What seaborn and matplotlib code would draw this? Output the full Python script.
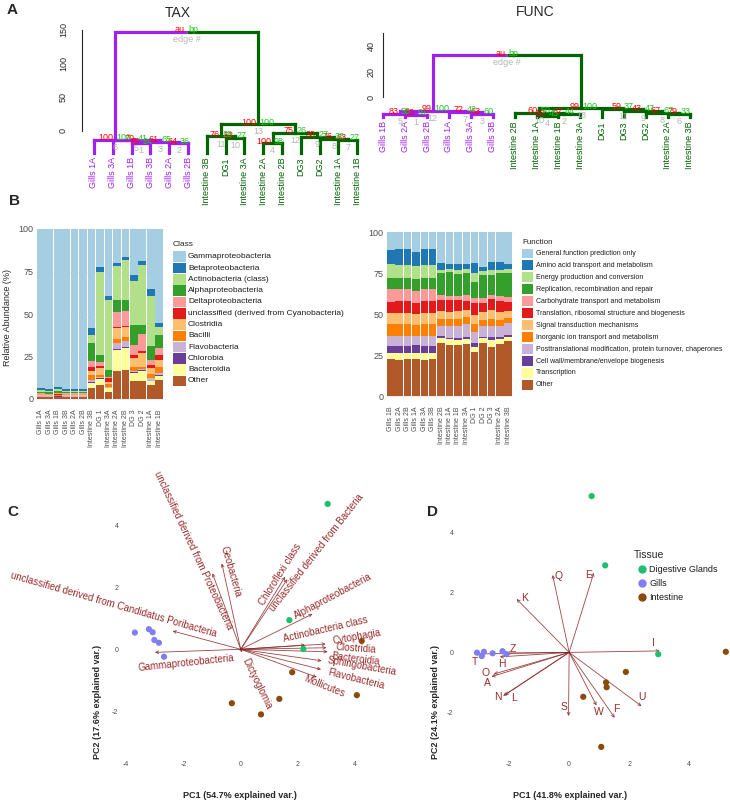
import numpy as np
import pandas as pd
import seaborn as sns
import matplotlib.pyplot as plt
from matplotlib.patches import Rectangle
from matplotlib.lines import Line2D

sns.set_style('white')
plt.rcParams['font.family'] = ['Liberation Sans', 'DejaVu Sans']
plt.rcParams['axes.unicode_minus'] = False

W, H = 730, 802

# ---------------- A: dendrogramas (merge no formato do R: negativo = folha)
tax_leaves = ['Gills 1A', 'Gills 3A', 'Gills 1B', 'Gills 3B', 'Gills 2A', 'Gills 2B',
              'Intestine 3B', 'DG1', 'Intestine 3A', 'Intestine 2A', 'Intestine 2B',
              'DG3', 'DG2', 'Intestine 1A', 'Intestine 1B']
tax_merge = [(-3, -4), (-5, -6), (1, 2), (-10, -11), (-2, 3), (-1, 5), (-14, -15),
             (-13, 7), (-12, 8), (-8, -9), (-7, 10), (4, 9), (11, 12), (6, 13)]
tax_height = [-18, -18, -16, -18, -14, -13, -13, -12, -9, -10, -8, -3, 10, 147]
tax_au = [75, 64, 61, 100, 70, 100, 63, 76, 30, 53, 76, 75, 100]
tax_bp = [24, 36, 65, 98, 41, 100, 27, 36, 27, 27, 28, 26, 100]

func_leaves = ['Gills 1B', 'Gills 2A', 'Gills 2B', 'Gills 1A', 'Gills 3A', 'Gills 3B',
               'Intestine 2B', 'Intestine 1A', 'Intestine 1B', 'Intestine 3A',
               'DG1', 'DG3', 'DG2', 'Intestine 2A', 'Intestine 3B']
func_merge = [(-2, -3), (4, -10), (-5, -6), (-8, -9), (-1, 1), (-14, -15), (-4, 3),
              (-13, 6), (-12, 8), (-7, 2), (-11, 9), (5, 7), (10, 11), (12, 13)]
func_height = [-13.8, -13, -13, -14.5, -12.7, -13, -11.5, -12, -10.7, -12, -9.1, -10.7, -8.6, 33]
func_au = [50, 67, 63, 53, 83, 79, 72, 67, 43, 60, 59, 99, 99]
func_bp = [91, 44, 60, 45, 55, 33, 42, 67, 47, 50, 37, 100, 100]

# ---------------- B: abundancia relativa (%)
tax_samples = ['Gills 1A', 'Gills 3A', 'Gills 1B', 'Gills 3B', 'Gills 2A', 'Gills 2B',
               'Intestine 3B', 'DG 1', 'Intestine 3A', 'Intestine 2A', 'Intestine 2B',
               'DG 3', 'DG 2', 'Intestine 1A', 'Intestine 1B']
other_c = [1.0, 1.0, 1.2, 1.0, 1.0, 1.0, 6.7, 8.3, 4.3, 16.5, 17.1, 10.8, 10.6, 8.3, 11.2]
bacteroidia = [0.2, 0.2, 0.2, 0.2, 0.2, 0.2, 2.5, 3.5, 2.0, 12.4, 12.8, 4.3, 6.1, 2.1, 2.4]
chlorobia = [0.1, 0.1, 0.1, 0.1, 0.1, 0.1, 0.6, 0.4, 0.3, 0.4, 0.4, 1.0, 0.4, 0.4, 0.4]
flavobacteria = [0.3, 0.3, 0.3, 0.3, 0.3, 0.3, 1.4, 1.0, 0.7, 3.5, 4.1, 0.6, 0.6, 1.4, 1.5]
bacilli = [0.3, 0.3, 0.3, 0.3, 0.3, 0.3, 2.9, 0.9, 1.5, 2.4, 2.3, 2.0, 1.4, 2.5, 3.6]
clostridia = [0.4, 0.4, 0.4, 0.4, 0.4, 0.4, 2.4, 3.9, 1.4, 6.5, 5.5, 5.3, 8.2, 3.3, 3.9]
cyano = [0.2, 0.2, 0.2, 0.2, 0.2, 0.2, 2.5, 1.4, 2.0, 0.9, 1.0, 1.9, 1.2, 2.0, 2.9]
delta = [0.8, 0.7, 1.0, 0.8, 0.8, 0.8, 3.6, 2.6, 1.0, 8.5, 8.3, 5.9, 9.6, 3.0, 4.0]
alpha = [1.0, 0.8, 1.0, 0.9, 0.9, 0.9, 10.2, 4.0, 3.9, 7.2, 6.8, 11.8, 5.5, 8.4, 7.8]
actino = [0.8, 0.6, 0.9, 0.7, 0.7, 0.7, 4.9, 48.5, 41.2, 19.7, 23.2, 25.6, 35.4, 28.9, 4.9]
beta = [1.2, 1.0, 1.2, 1.1, 1.1, 1.1, 4.1, 3.1, 2.4, 2.0, 1.8, 3.9, 1.9, 4.6, 2.0]
gamma = [93.7, 94.4, 93.2, 94.0, 94.0, 94.0, 58.2, 22.4, 39.3, 20.0, 16.7, 26.9, 19.1, 35.1, 55.4]
class_names = ['Gammaproteobacteria', 'Betaproteobacteria', 'Actinobacteria (class)',
               'Alphaproteobacteria', 'Deltaproteobacteria',
               'unclassified (derived from Cyanobacteria)', 'Clostridia', 'Bacilli',
               'Flavobacteria', 'Chlorobia', 'Bacteroidia', 'Other']
class_layers = [other_c, bacteroidia, chlorobia, flavobacteria, bacilli, clostridia,
                cyano, delta, alpha, actino, beta, gamma]  # de baixo para cima

func_samples = ['Gills 1B', 'Gills 2A', 'Gills 2B', 'Gills 1A', 'Gills 3A', 'Gills 3B',
                'Intestine 2B', 'Intestine 1A', 'Intestine 1B', 'Intestine 3A',
                'DG 1', 'DG 2', 'DG 3', 'Intestine 2A', 'Intestine 3B']
other_f = [22.6, 22.2, 22.4, 22.8, 22.2, 22.4, 32.2, 31.2, 31.2, 32.0, 27.0, 32.2, 30.1, 31.8, 33.8]
transcription = [3.4, 3.8, 3.6, 3.6, 3.8, 3.6, 3.0, 3.4, 3.2, 2.6, 2.7, 3.0, 4.1, 2.8, 2.5]
cell_wall = [4.5, 4.6, 4.6, 4.6, 4.6, 4.6, 1.5, 1.0, 1.2, 1.6, 2.9, 0.8, 1.6, 1.7, 1.0]
posttrans = [6.2, 6.0, 6.0, 5.6, 6.0, 6.0, 6.1, 7.2, 7.3, 8.0, 6.7, 6.8, 7.0, 6.5, 7.1]
inorganic = [7.1, 7.2, 7.2, 6.8, 7.2, 7.2, 4.2, 4.2, 4.3, 4.0, 4.5, 3.6, 4.0, 3.6, 3.1]
signal = [7.1, 7.0, 7.0, 6.8, 7.0, 7.0, 5.1, 4.5, 4.5, 4.3, 5.7, 4.7, 5.7, 5.1, 4.6]
translation = [6.7, 7.0, 7.0, 6.6, 7.0, 7.0, 6.6, 7.2, 7.0, 5.7, 7.1, 5.5, 6.6, 6.8, 5.5]
carbohydrate = [7.6, 7.8, 7.8, 7.2, 7.8, 7.6, 3.0, 2.4, 2.5, 3.5, 3.1, 3.1, 2.6, 2.8, 2.7]
replication = [6.7, 6.4, 6.4, 7.2, 6.4, 6.6, 13.2, 14.9, 13.5, 13.5, 10.2, 14.2, 12.2, 13.8, 14.6]
energy = [8.5, 8.2, 8.2, 8.2, 8.2, 8.2, 2.1, 1.6, 2.5, 2.3, 5.1, 2.7, 3.1, 2.1, 2.5]
amino = [8.8, 9.4, 9.4, 8.6, 9.4, 9.4, 4.1, 3.0, 3.3, 3.0, 6.5, 2.4, 5.0, 5.0, 3.2]
general = [10.8, 10.4, 10.4, 12.0, 10.4, 10.4, 18.9, 19.4, 19.5, 19.5, 18.5, 21.0, 18.0, 18.0, 19.4]
func_names = ['General function prediction only', 'Amino acid transport and metabolism',
              'Energy production and conversion', 'Replication, recombination and repair',
              'Carbohydrate transport and metabolism',
              'Translation, ribosomal structure and biogenesis',
              'Signal transduction mechanisms', 'Inorganic ion transport and metabolism',
              'Posttranslational modification, protein turnover, chaperones',
              'Cell wall/membrane/envelope biogenesis', 'Transcription', 'Other']
func_layers = [other_f, transcription, cell_wall, posttrans, inorganic, signal,
               translation, carbohydrate, replication, energy, amino, general]

# ---------------- C / D: PCA
tissue = ['Gills'] * 6 + ['Digestive Glands'] * 3 + ['Intestine'] * 6
pc_tax_x = [-3.70, -3.21, -3.08, -3.02, -2.86, -2.68, 3.04, 1.70, 2.19,
            4.23, 1.80, 4.06, 1.35, -0.31, 0.71]
pc_tax_y = [0.54, 0.65, 0.55, 0.30, 0.21, -0.24, 4.69, 0.94, 0.01,
            0.27, -0.74, -1.48, -1.60, -1.74, -2.10]
tax_vars = ['unclassified derived from Proteobacteria', 'Geobacteria', 'Chloroflexi class',
            'unclassified derived from Bacteria', 'Alphaproteobacteria',
            'Actinobacteria class', 'Cytophagia', 'Clostridia', 'Bacteroidia',
            'Sphingobacteria', 'Flavobacteria', 'Mollicutes', 'Dictyoglomia',
            'Gammaproteobacteria', 'unclassified derived from Candidatus Poribacteria']
tax_load_x = [-0.99, -0.66, 1.55, 1.63, 2.51, 2.25, 2.97, 3.00, 3.04, 2.83, 2.81, 2.66, 0.05, -3.00, -2.38]
tax_load_y = [2.45, 2.77, 2.34, 2.26, 1.14, 0.14, 0.17, 0.05, -0.08, -0.37, -0.65, -0.90, -0.10, -0.10, 0.59]

pc_func_x = [-3.07, -2.91, -2.84, -2.55, -2.22, -2.09, 0.75, 1.20, 2.97,
             5.22, 1.89, 1.23, 1.25, 0.47, 1.07]
pc_func_y = [-0.01, -0.12, 0.02, -0.03, 0.04, -0.06, 5.21, 2.90, -0.06,
             0.02, -0.65, -1.00, -1.16, -1.48, -3.15]
func_vars = ['Q', 'E', 'K', 'I', 'Z', 'T', 'H', 'O', 'A', 'N', 'L', 'S', 'W', 'F', 'U']
func_load_x = [-0.55, 0.82, -1.75, 3.02, -2.10, -3.00, -2.31, -2.51, -2.59, -2.20, -2.14, -0.02, 0.91, 1.52, 2.41]
func_load_y = [2.58, 2.65, 1.78, 0.05, -0.02, -0.05, -0.15, -0.72, -0.81, -1.45, -1.42, -2.12, -1.77, -2.18, -1.79]

# posicao dos rotulos das setas (x, y, angulo)
tax_lab = [(-1.66, 3.20, -65), (-0.35, 2.50, -74), (1.37, 2.43, 58), (2.66, 3.12, 52),
           (3.24, 1.72, 28), (2.95, 0.65, 13), (4.05, 0.41, 10), (4.01, 0.04, -4),
           (4.03, -0.30, -7), (4.22, -0.55, -10), (4.05, -0.97, -14), (2.91, -1.18, -22),
           (0.56, -1.10, -64), (-1.91, -0.44, 6), (-4.46, 1.43, -16)]
func_lab = [(-0.35, 2.55), (0.66, 2.58), (-1.48, 1.80), (2.82, 0.30), (-1.87, 0.13),
            (-3.14, -0.31), (-2.25, -0.40), (-2.79, -0.67), (-2.73, -1.03), (-2.39, -1.48),
            (-1.84, -1.53), (-0.17, -1.81), (0.98, -2.00), (1.58, -1.89), (2.41, -1.48)]

PURPLE, DKGREEN = '#A020F0', '#006400'
tissue_pal = {'Digestive Glands': '#1EC06C', 'Gills': '#7F7FF2', 'Intestine': '#8B4A0C'}
ARROW = '#8B2525'

fig = plt.figure(figsize=(W / 100, H / 100), dpi=100)


def add_ax(x0, y0, x1, y1):
    return fig.add_axes([x0 / W, 1 - y1 / H, (x1 - x0) / W, (y1 - y0) / H])


def ftext(x, y, s, **kw):
    fig.text(x / W, 1 - y / H, s, **kw)


def dendro(ax, leaves, merge, height, au, bp, leaf_h):
    pos = {}

    def get(ref):
        if ref < 0:
            return -ref - 1, leaf_h, [leaves[-ref - 1]]
        if ref not in pos:
            l, r = merge[ref - 1]
            xl, _, ml = get(l)
            xr, _, mr = get(r)
            pos[ref] = ((xl + xr) / 2, height[ref - 1], ml + mr)
        return pos[ref]

    def col(members):
        g = [m.startswith('Gills') for m in members]
        return PURPLE if all(g) else (DKGREEN if not any(g) else None)

    lw = 2.3
    for k in range(1, len(merge) + 1):
        x, h, m = get(k)
        l, r = merge[k - 1]
        xl, hl, ml = get(l)
        xr, hr, mr = get(r)
        cl, cr = col(ml), col(mr)
        ax.plot([xl, xl], [hl, h], color=cl, lw=lw, solid_capstyle='projecting')
        ax.plot([xr, xr], [hr, h], color=cr, lw=lw, solid_capstyle='projecting')
        c = col(m)
        if c is None:
            ax.plot([xl, x], [h, h], color=cl, lw=lw, solid_capstyle='butt')
            ax.plot([x, xr], [h, h], color=cr, lw=lw, solid_capstyle='butt')
            t_au, t_bp, t_ed = 'au', 'bp', 'edge #'
        else:
            ax.plot([xl, xr], [h, h], color=c, lw=lw, solid_capstyle='projecting')
            t_au, t_bp, t_ed = str(au[k - 1]), str(bp[k - 1]), str(k)
        kw = dict(textcoords='offset points', va='center', fontsize=6.5)
        ax.annotate(t_au, (x, h), xytext=(-1, 1.5), ha='right', color='red', **kw)
        ax.annotate(t_bp, (x, h), xytext=(1, 1.5), ha='left', color='#22C422', **kw)
        ax.annotate(t_ed, (x, h), xytext=(0, -5.5), ha='center', color='#B5B5B5', **kw)

    for i, name in enumerate(leaves):
        ax.annotate(name, (i, leaf_h), xytext=(0, -3), textcoords='offset points',
                    rotation=90, ha='center', va='top', fontsize=6.5,
                    color=PURPLE if name.startswith('Gills') else DKGREEN)
    for s in ['top', 'right', 'bottom']:
        ax.spines[s].set_visible(False)
    ax.set_xticks([])


# A esquerda (TAX)
ax = add_ax(76, 25, 370, 160)
dendro(ax, tax_leaves, tax_merge, tax_height, tax_au, tax_bp, -33)
ax.set_xlim(-0.957, 14.68)
ax.set_ylim(-43.1, 157.4)
ax.spines['left'].set_position(('data', -0.638))
ax.spines['left'].set_bounds(0, 150)
ax.set_yticks([0, 50, 100, 150])
ax.tick_params(axis='y', length=4, width=0.8, labelsize=6.5, pad=6)
plt.setp(ax.get_yticklabels(), rotation=90, va='center')
ftext(178, 13, 'TAX', fontsize=10, ha='center', va='center')

# A direita (FUNC)
ax = add_ax(376, 25, 700, 130)
dendro(ax, func_leaves, func_merge, func_height, func_au, func_bp, -15.4)
ax.set_xlim(-0.334, 14.47)
ax.set_ylim(-25.5, 56.5)
ax.spines['left'].set_position(('data', -0.02))
ax.spines['left'].set_bounds(0, 50)
ax.set_yticks([0, 10, 20, 30, 40, 50])
ax.set_yticklabels(['0', '', '20', '', '40', ''])
ax.tick_params(axis='y', length=4, width=0.8, labelsize=6.5, pad=1)
plt.setp(ax.get_yticklabels(), rotation=90, va='center')
ftext(535, 12, 'FUNC', fontsize=10, ha='center', va='center')


# ---------------- B
def stacked(ax, samples, layers, colors):
    cum = np.cumsum(np.array(layers), axis=0)
    for i in range(len(layers) - 1, -1, -1):
        sns.barplot(x=samples, y=cum[i], order=samples, color=colors[i], width=0.9,
                    saturation=1, errorbar=None, linewidth=0, ax=ax)
    ax.set_xlim(-0.6, len(samples) - 0.4)
    ax.set_ylim(-5, 105)
    ax.set_yticks([0, 25, 50, 75, 100])
    ax.set_xticks(range(len(samples)))
    ax.set_xticklabels(samples, rotation=90, fontsize=5, color='#4d4d4d')
    ax.tick_params(axis='both', length=0, pad=1.5)
    ax.tick_params(axis='y', labelsize=6.5, labelcolor='#4d4d4d')
    ax.set_axisbelow(True)
    ax.yaxis.grid(True, color='#ebebeb', lw=0.6)
    ax.set_xlabel('')
    ax.set_ylabel('')
    sns.despine(ax=ax, left=True, bottom=True)


pal = sns.color_palette('Paired', 12)
bottom_up = pal[::-1]

ax = add_ax(35.7, 220.5, 164.3, 407.5)
stacked(ax, tax_samples, class_layers, bottom_up)
ftext(8, 317, 'Relative Abundance (%)', rotation=90, ha='center', va='center', fontsize=6.5)
ftext(173, 245, 'Class', fontsize=6, va='center')
for i, name in enumerate(class_names):
    yc = 256.7 + 11.3 * i
    fig.add_artist(Rectangle((173 / W, 1 - (yc + 5.3) / H), 12.5 / W, 10.6 / H,
                             transform=fig.transFigure, color=pal[i], lw=0))
    ftext(188, yc, name, fontsize=6, va='center', color='#1a1a1a')

ax = add_ax(385.7, 224.1, 513.3, 404.2)
stacked(ax, func_samples, func_layers, bottom_up)
ftext(522, 243, 'Function', fontsize=5.8, va='center')
for i, name in enumerate(func_names):
    yc = 253.3 + 11.97 * i
    fig.add_artist(Rectangle((522.3 / W, 1 - (yc + 4.8) / H), 10.5 / W, 9.6 / H,
                             transform=fig.transFigure, color=pal[i], lw=0))
    ftext(536, yc, name, fontsize=5, va='center', color='#1a1a1a')


# ---------------- C / D
def biplot(ax, px, py, lx, ly, names, labs, fs):
    for x, y in zip(lx, ly):
        ax.annotate('', xy=(x, y), xytext=(0, 0),
                    arrowprops=dict(arrowstyle='->', color=ARROW, lw=0.6, alpha=0.85,
                                    mutation_scale=5, shrinkA=0, shrinkB=0), zorder=1)
    for name, lab in zip(names, labs):
        ang = lab[2] if len(lab) > 2 else 0
        ax.text(lab[0], lab[1], name, rotation=ang, rotation_mode='anchor',
                ha='center', va='center', color='#9A2B2B', fontsize=fs, clip_on=False)
    df = pd.DataFrame({'x': px, 'y': py, 'Tissue': tissue})
    sns.scatterplot(data=df, x='x', y='y', hue='Tissue', palette=tissue_pal, s=20,
                    edgecolor='none', legend=False, zorder=3, ax=ax)
    ax.set_xlabel('')
    ax.set_ylabel('')
    ax.tick_params(length=2, width=0.5, color='#4d4d4d', labelsize=5,
                   labelcolor='#4d4d4d', pad=2)
    sns.despine(ax=ax, left=True, bottom=True)


ax = add_ax(124, 485, 368, 755)
biplot(ax, pc_tax_x, pc_tax_y, tax_load_x, tax_load_y, tax_vars, tax_lab, 7)
ax.set_xlim(-4.08, 4.45)
ax.set_ylim(-3.41, 5.3)
ax.set_xticks([-4, -2, 0, 2, 4])
ax.set_yticks([-2, 0, 2, 4])
ax.patch.set_alpha(0)
ftext(240, 795, 'PC1 (54.7% explained var.)', ha='center', va='center', fontsize=6.5, weight='bold')
ftext(97, 702, 'PC2 (17.6% explained var.)', ha='center', va='center', fontsize=6.5,
      weight='bold', rotation=90)

ax = add_ax(459, 485, 730, 755)
biplot(ax, pc_func_x, pc_func_y, func_load_x, func_load_y, func_vars, func_lab, 7.5)
ax.set_xlim(-3.67, 5.36)
ax.set_ylim(-3.42, 5.58)
ax.set_xticks([-2, 0, 2, 4])
ax.set_yticks([-2, 0, 2, 4])
ax.patch.set_alpha(0)
ftext(570, 795, 'PC1 (41.8% explained var.)', ha='center', va='center', fontsize=6.5, weight='bold')
ftext(435, 702, 'PC2 (24.1% explained var.)', ha='center', va='center', fontsize=6.5,
      weight='bold', rotation=90)

ftext(634, 555, 'Tissue', fontsize=7.5, va='center')
for i, t in enumerate(['Digestive Glands', 'Gills', 'Intestine']):
    yc = 569 + 14 * i
    fig.add_artist(Line2D([641.7 / W], [1 - yc / H], marker='o', markersize=5,
                          color=tissue_pal[t], lw=0, transform=fig.transFigure))
    ftext(649, yc, t, fontsize=6.5, va='center', color='#1a1a1a')

# letras dos paineis
for letter, x, y in [('A', 12, 10), ('B', 14, 201), ('C', 13, 512), ('D', 432, 512)]:
    ftext(x, y, letter, fontsize=11, weight='bold', ha='center', va='center')

fig.savefig('out.png', dpi=100)
